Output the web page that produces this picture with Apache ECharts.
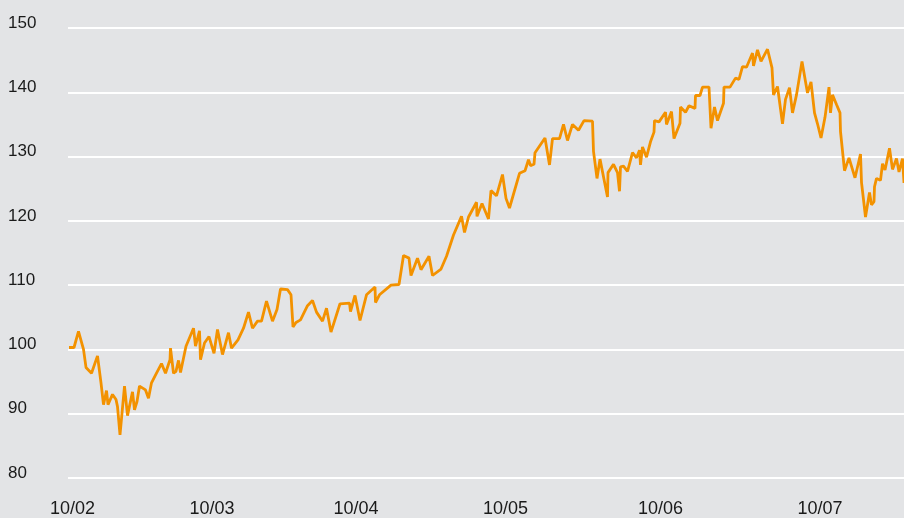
<!DOCTYPE html>
<html>
<head>
<meta charset="utf-8">
<script src="https://cdn.jsdelivr.net/npm/echarts@6/dist/echarts.min.js"></script>
<style>
html,body{margin:0;padding:0;background:#e3e4e6;}
#chart{width:904px;height:518px;}
</style>
</head>
<body>
<div id="chart"></div>
<script>
// trading-day index (x) and index level (y)
var days = [0,10,19,29,34,45,57,64,69,75,78,87,94,97,102,111,117,127,131,136,141,153,159,165,175,185,193,202,203,209,214,219,223,234,249,253,261,263,271,280,290,297,307,319,325,338,349,359,367,377,385,395,407,416,423,437,444,448,454,463,
477,487,495,507,515,524,542,561,563,572,582,595,612,613,621,644,660,669,680,684,697,704,720,727,744,755,769,785,791,799,815,816,826,839,844,855,867,874,881,901,912,919,923,930,932,952,961,967,981,989,997,1007,1019,1030,1047,
1049,1056,1062,1077,1078,1089,1097,1101,1103,1109,1117,1127,1135,1141,1143,1147,1155,1163,1170,1171,1180,1193,1195,1205,1210,1222,1223,1233,1240,1252,1253,1262,1267,1280,1284,1291,1297,1309,1310,1322,1333,1340,1347,1355,1367,1369,1377,1384,1397,1406,1409,1417,1427,1433,1441,1447,1455,1466,1477,1484,1491,1497,1504,1512,1520,1523,1527,1535,1542,1543,1551,1560,1572,1583,1585,1593,1601,1605,1610,1611,1615,1623,1627,1632,1641,1647,1655,1660,1667,1670];
var values = [100.3,100.3,102.8,100.0,97.2,96.3,99.0,94.8,91.4,93.6,91.4,93.0,92.2,91.1,86.7,94.3,89.7,93.4,90.6,91.9,94.3,93.7,92.4,94.8,96.3,97.8,96.3,98.4,100.2,96.3,96.6,98.3,96.4,100.5,103.3,100.5,102.9,98.4,101.0,102.0,99.4,103.1,99.2,102.6,100.2,101.5,103.3,105.8,103.3,104.4,104.4,107.5,104.4,106.2,109.4,109.3,108.5,103.5,104.2,104.6,
106.8,107.6,105.8,104.4,106.4,102.7,107.1,107.2,105.9,108.4,104.5,108.5,109.7,107.3,108.5,110.0,110.1,114.6,114.2,111.5,114.2,112.4,114.5,111.5,112.5,114.5,117.8,120.7,118.2,120.6,122.9,120.7,122.7,120.3,124.7,123.9,127.2,123.5,122.0,127.4,127.8,129.5,128.6,128.8,130.6,132.9,128.7,132.8,132.8,135.0,132.5,135.0,134.1,135.6,135.5,
130.8,126.6,129.6,123.7,127.5,128.8,127.5,124.6,128.4,128.5,127.7,130.6,129.8,131.0,128.7,131.5,129.9,132.3,133.8,135.6,135.4,136.9,135.0,137.0,132.8,135.2,137.7,136.9,137.9,137.5,139.5,139.5,140.8,140.8,134.4,137.7,135.6,138.3,140.8,140.8,142.2,142.0,144.0,143.9,146.1,144.1,146.6,144.8,146.7,143.8,139.6,140.9,135.1,138.9,140.7,136.8,139.6,144.8,139.9,141.6,136.8,135.1,132.9,136.1,140.8,136.8,139.6,138.1,136.8,133.9,127.8,129.8,126.7,130.4,126.0,120.6,124.4,122.5,123.0,125.3,126.6,126.3,128.9,127.9,131.3,128.0,129.7,127.6,129.7,125.9];
var tickDays = [7,286,574,873,1183,1502];
var tickLabels = ['10/02','10/03','10/04','10/05','10/06','10/07'];
var yTicks = [80,90,100,110,120,130,140,150];

var seriesData = days.map(function(d,i){return [d, values[i]];});
var labelMap = {};
tickDays.forEach(function(d,i){labelMap[d]=tickLabels[i];});

var chart = echarts.init(document.getElementById('chart'), null, {renderer:'canvas'});
chart.setOption({
  backgroundColor:'#e3e4e6',
  animation:false,
  grid:{left:68,right:0,top:28,bottom:40,containLabel:false},
  xAxis:{
    type:'value',min:-2,max:1670,
    axisLine:{show:false},axisTick:{show:false},splitLine:{show:false},
    axisLabel:{
      customValues:tickDays,
      formatter:function(v){return labelMap[v]||'';},
      color:'#1a1a1a',fontSize:18,fontFamily:'Liberation Sans, Arial, sans-serif',
      margin:22
    }
  },
  yAxis:{
    type:'value',min:yTicks[0],max:yTicks[yTicks.length-1],interval:10,
    axisLine:{show:false},axisTick:{show:false},
    splitLine:{lineStyle:{color:'#ffffff',width:2}},
    axisLabel:{
      color:'#1a1a1a',fontSize:17,fontFamily:'Liberation Sans, Arial, sans-serif',
      align:'left',margin:60,verticalAlign:'bottom',lineHeight:10
    }
  },
  series:[{
    type:'line',data:seriesData,showSymbol:false,symbol:'none',
    lineStyle:{color:'#f39200',width:2.8},
    clip:true
  }]
});
</script>
</body>
</html>
